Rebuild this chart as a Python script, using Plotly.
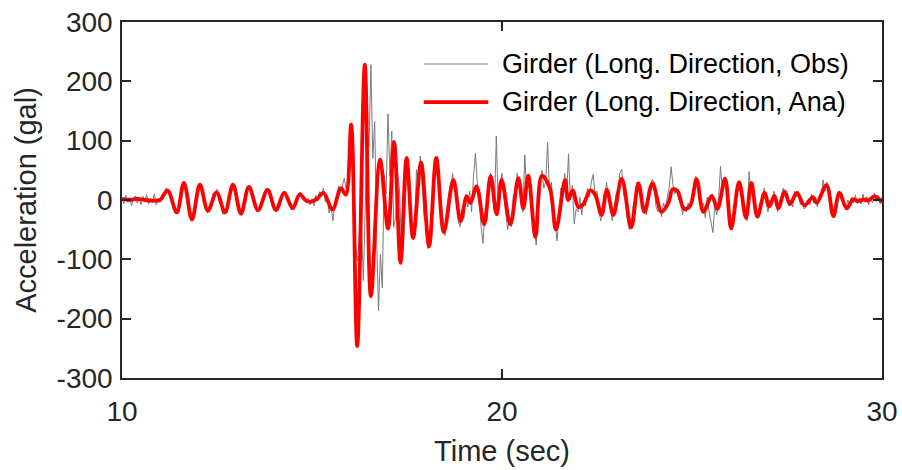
import numpy as np
import plotly.graph_objects as go

# analysis record (Ana) - peaks / troughs
ana_time = [10.0, 10.2, 10.4, 10.6, 10.8, 11.0, 11.2, 11.44, 11.63, 11.84,
            12.05, 12.26, 12.49, 12.71, 12.92, 13.13, 13.34, 13.58, 13.83, 14.05,
            14.27, 14.49, 14.68, 14.82, 14.95, 15.13, 15.30, 15.54, 15.76, 15.89,
            16.03, 16.19, 16.39, 16.55, 16.79, 17.00, 17.16, 17.33, 17.49, 17.66,
            17.87, 18.08, 18.27, 18.47, 18.72, 18.91, 19.07, 19.17, 19.33, 19.53,
            19.70, 19.86, 19.99, 20.22, 20.43, 20.56, 20.69, 20.88, 21.05, 21.26,
            21.42, 21.66, 21.74, 21.86, 22.01, 22.14, 22.32, 22.45, 22.62, 22.76,
            22.93, 23.15, 23.40, 23.59, 23.75, 23.96, 24.20, 24.38, 24.49, 24.62,
            24.79, 24.95, 25.12, 25.30, 25.52, 25.67, 25.87, 26.03, 26.24, 26.42,
            26.56, 26.72, 26.91, 27.03, 27.17, 27.27, 27.44, 27.58, 27.76, 27.96,
            28.18, 28.28, 28.54, 28.72, 28.88, 29.07, 29.24, 29.38, 29.53, 29.63,
            29.80, 30.0]
ana_acc = [2, 0, 2, 0, -1, 0, 16, -21, 29, -33,
           26, -18, 13, -21, 26, -23, 22, -17, 17, -17,
           12, -14, 10, 0, -3, 2, 12, -16, 20, 9,
           127, -246, 228, -162, 68, -48, 98, -106, 71, -64,
           63, -78, 71, -54, 34, -36, 6, -5, 23, -41,
           40, -24, 34, -41, 37, -14, 41, -62, 41, 20,
           -50, 34, 0, 16, -12, -7, 16, 9, -25, 17,
           -25, 36, -46, 28, -20, 28, -20, -5, 18, 15,
           -15, -10, 35, -20, 7, -15, 36, -48, 30, -30,
           29, -28, 12, -11, 7, -14, 14, -7, 12, -9,
           5, -5, 25, -27, 12, -14, 1, -2, 1, -1,
           6, -4]

# observed record (Obs), one row per second, 0.05 s step
obs_10 = [3, -6, 8, -4, 5, -9, 2, 7, -5, 4, -8, 6, -3, 9, -7, 3, -5, 10, -8, 2]
obs_11 = [-4, 10, 6, 20, 12, 16, -2, -3, -22, -14, -20, 6, 15, 30, 18, 9, -22, -28, -32, -2]
obs_12 = [20, 22, 25, 0, -4, -22, -10, -8, 12, 6, 18, -2, -6, -24, -16, -15, 8, 14, 28, 18]
obs_13 = [12, -12, -16, -26, -10, -4, 18, 19, 22, 1, -4, -20, -13, -14, 4, 6, 20, 13, 12, -9]
obs_14 = [-10, -20, -9, -6, 10, 8, 15, -2, -3, -16, -10, -12, 5, 4, 13, 2, 6, -5, 3, -8]
obs_15 = [2, -10, 8, -2, 14, 6, 20, -3, 8, -22, -10, -35, -8, 2, 24, 12, 26, 37, 18, 30]
obs_16 = [60, 115, 20, -80, -103, -55, -41, -136, -20, 127, 90, 228, 70, 132, -60, -187, -92, -148, 43, 10]
obs_17 = [145, 40, 116, -46, -30, 48, 20, -69, -83, -20, 60, 35, -30, -44, -50, 51, 30, 74, 20, -30]
obs_18 = [-40, -82, -60, -10, 12, 55, 40, 30, -5, -38, -60, -15, 10, 20, 45, 15, 12, -35, -45, -15]
obs_19 = [-30, 10, -12, 15, -20, 40, 79, 30, 0, -45, -73, -20, -35, 10, 45, 10, -20, 108, -10, 20]
obs_20 = [45, 5, -20, -50, -30, -45, 10, 5, 45, 25, 20, -20, 76, 10, 40, 30, -10, -40, -76, -15]
obs_21 = [10, 50, 20, 30, 97, 15, 30, -25, -40, -69, -20, 20, 10, 45, 5, 78, 0, 25, -40, -15]
obs_22 = [-20, 5, -25, 0, -10, 20, 5, 30, 43, 10, 15, -20, -35, -10, 0, 30, 5, -5, -35, -15]
obs_23 = [10, 15, 45, 52, 10, 0, -35, -50, -40, -10, 0, 30, 20, 25, -20, -15, -25, 15, 20, 35]
obs_24 = [30, -10, -20, -10, -28, -5, -15, 5, 20, 56, 25, 10, 20, 0, 5, -25, -10, -20, -5, -15]
obs_25 = [10, 15, 40, 20, 25, -10, -5, -30, 5, -20, -40, -55, -10, -25, 0, 57, 15, 30, 25, -10]
obs_26 = [-35, -50, -15, 0, 30, 20, 25, -20, -15, -35, 48, 15, 30, -5, -20, -30, -5, 0, 20, -5]
obs_27 = [-20, 0, -10, 15, 5, -20, -5, 5, 20, 10, 12, -10, 0, -12, 15, 5, 15, -8, 0, -15]
obs_28 = [-12, 0, -8, 10, -5, 5, -12, 8, 5, 34, 15, 30, 5, -5, -20, -30, -5, 15, 5, 10]
obs_29 = [-10, -15, 0, -8, 5, -5, 8, -6, 4, -7, 10, -4, 6, -8, 3, -5, 12, -3, 8, -6]
obs_30 = [5]

obs_acc = (obs_10 + obs_11 + obs_12 + obs_13 + obs_14 + obs_15 + obs_16 + obs_17
           + obs_18 + obs_19 + obs_20 + obs_21 + obs_22 + obs_23 + obs_24 + obs_25
           + obs_26 + obs_27 + obs_28 + obs_29 + obs_30)
obs_time = np.round(10 + 0.05 * np.arange(len(obs_acc)), 2)

x_ticks = [10, 20, 30]
y_ticks = [-300, -200, -100, 0, 100, 200, 300]
names = ['Girder (Long. Direction, Obs)', 'Girder (Long. Direction, Ana)']

FONT = 'Liberation Sans, Arial, sans-serif'
AX = '#262626'

fig = go.Figure()
fig.add_trace(go.Scatter(x=obs_time, y=obs_acc, mode='lines', name=names[0],
                         line=dict(color='#7a7a7a', width=1)))
fig.add_trace(go.Scatter(x=ana_time, y=ana_acc, mode='lines', name=names[1],
                         line=dict(color='#ff0000', width=3.8, shape='spline', smoothing=1)))

# legend drawn by hand so the line samples are as long as in the original
leg = [(0.882, '#7a7a7a', 1), (0.775, '#ff0000', 3.8)]
for (yy, col, w), nm in zip(leg, names):
    fig.add_shape(type='line', xref='paper', yref='paper', x0=0.397, x1=0.482,
                  y0=yy, y1=yy, line=dict(color=col, width=w))
    fig.add_annotation(xref='paper', yref='paper', x=0.497, y=yy, text=nm,
                       showarrow=False, xanchor='left', yanchor='middle',
                       font=dict(family=FONT, size=27, color='#000'))

axis_common = dict(showline=True, linecolor=AX, linewidth=1.5, mirror='ticks',
                   ticks='inside', ticklen=9, tickwidth=1.5, tickcolor=AX,
                   showgrid=False, zeroline=False, automargin=False,
                   tickfont=dict(family=FONT, size=28, color=AX))
fig.update_xaxes(range=[10, 30], tickvals=x_ticks, ticktext=[str(v) for v in x_ticks],
                 ticklabelstandoff=8,
                 title=dict(text='Time (sec)', font=dict(family=FONT, size=29, color=AX), standoff=14),
                 **axis_common)
fig.update_yaxes(range=[-300, 300], tickvals=y_ticks, ticktext=[str(v) for v in y_ticks],
                 ticklabelstandoff=2,
                 title=dict(text='Acceleration (gal)', font=dict(family=FONT, size=29, color=AX), standoff=11),
                 **axis_common)
fig.update_layout(width=902, height=470, showlegend=False,
                  margin=dict(l=122, r=20, t=22, b=92),
                  plot_bgcolor='white', paper_bgcolor='white')

fig.write_html("out.html", config={'displayModeBar': False},
               post_script="document.body.style.margin='0';")
